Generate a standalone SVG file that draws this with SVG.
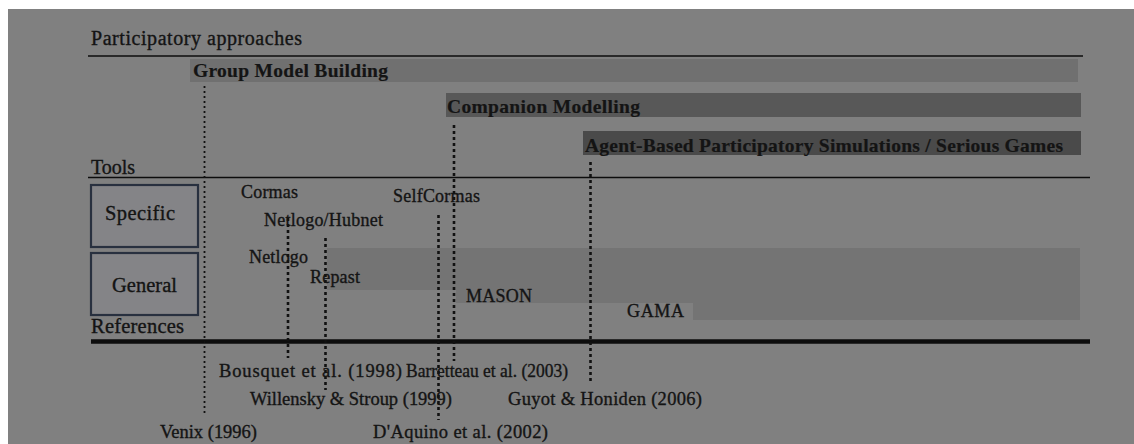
<svg xmlns="http://www.w3.org/2000/svg" width="1134" height="444" viewBox="0 0 1134 444">
  <style>
    text { font-family: "Liberation Serif", "Times New Roman", serif; fill: #141414; stroke: #141414; stroke-width: 0.35; font-size: 18.5px; }
    .tool { font-size: 18px; }
    .hd { font-size: 20px; }
    .band-label { font-size: 19.5px; font-weight: bold; stroke-width: 0.2; }
    .box-label { font-size: 20.5px; }
    .rule { stroke: #0d0d0d; fill: none; }
    .box { fill: #848487; stroke: #28303f; stroke-width: 2.2; }
    .dot { stroke: #111; stroke-width: 2.6; stroke-dasharray: 3 3; fill: none; }
    .dot-thin { stroke: #111; stroke-width: 1.8; stroke-dasharray: 2 3; fill: none; }
  </style>
  <rect x="0" y="0" width="1134" height="444" fill="#ffffff"/>
  <rect x="8" y="9" width="1126" height="435" fill="#808080"/>

  <g id="headers">
    <text class="hd" x="91" y="45" textLength="211" lengthAdjust="spacing">Participatory approaches</text>
    <line class="rule" x1="88" y1="56" x2="1083" y2="56" stroke-width="1.6"/>
    <text class="hd" x="91" y="174" textLength="44" lengthAdjust="spacing">Tools</text>
    <line class="rule" x1="88" y1="177.5" x2="1090" y2="177.5" stroke-width="1.6"/>
    <text class="box-label" x="91" y="333" textLength="93" lengthAdjust="spacing">References</text>
    <line class="rule" x1="91" y1="341.5" x2="1090" y2="341.5" stroke-width="4.5"/>
  </g>

  <g id="group-model-building">
    <rect x="190" y="59" width="888" height="23" fill="#707070"/>
    <text class="band-label" x="193" y="77" textLength="195" lengthAdjust="spacing">Group Model Building</text>
  </g>
  <g id="companion-modelling">
    <rect x="446" y="93" width="635" height="24" fill="#585858"/>
    <text class="band-label" x="447" y="113" textLength="193" lengthAdjust="spacing">Companion Modelling</text>
  </g>
  <g id="abps">
    <rect x="583" y="131" width="498" height="24" fill="#4a4a4a"/>
    <text class="band-label" x="585" y="152" textLength="478" lengthAdjust="spacing">Agent-Based Participatory Simulations / Serious Games</text>
  </g>

  <g id="specific">
    <rect class="box" x="91" y="185" width="107" height="62"/>
    <text class="box-label" x="105" y="220" textLength="70" lengthAdjust="spacing">Specific</text>
  </g>
  <g id="general">
    <rect class="box" x="91" y="253" width="107" height="62"/>
    <text class="box-label" x="112" y="292" textLength="65" lengthAdjust="spacing">General</text>
  </g>

  <g id="general-tools-band">
    <polygon points="327,248 1080,248 1080,320 693,320 693,303 456,303 456,290 327,290" fill="#747474"/>
  </g>

  <g id="connectors">
    <line class="dot-thin" x1="204.5" y1="86" x2="204.5" y2="413"/>
    <line class="dot" x1="288" y1="218" x2="288" y2="358"/>
    <line class="dot" x1="325.5" y1="238" x2="325.5" y2="390"/>
    <line class="dot" x1="438.5" y1="215" x2="438.5" y2="420"/>
    <line class="dot" x1="454" y1="125" x2="454" y2="361"/>
    <line class="dot" x1="590.5" y1="162" x2="590.5" y2="382"/>
  </g>

  <g id="tool-cormas"><text class="tool" x="241" y="198" textLength="57" lengthAdjust="spacing">Cormas</text></g>
  <g id="tool-selfcormas"><text class="tool" x="393" y="202" textLength="87" lengthAdjust="spacing">SelfCormas</text></g>
  <g id="tool-netlogo-hubnet"><text class="tool" x="264" y="226" textLength="119" lengthAdjust="spacing">Netlogo/Hubnet</text></g>
  <g id="tool-netlogo"><text class="tool" x="249" y="263" textLength="59" lengthAdjust="spacing">Netlogo</text></g>
  <g id="tool-repast"><text class="tool" x="310" y="283" textLength="50" lengthAdjust="spacing">Repast</text></g>
  <g id="tool-mason"><text class="tool" x="466" y="302" textLength="66" lengthAdjust="spacing">MASON</text></g>
  <g id="tool-gama"><text class="tool" x="627" y="317" textLength="57" lengthAdjust="spacing">GAMA</text></g>

  <g id="ref-bousquet"><text x="219" y="377" textLength="183" lengthAdjust="spacing">Bousquet et al. (1998)</text></g>
  <g id="ref-barretteau"><text x="406" y="377" textLength="162" lengthAdjust="spacingAndGlyphs" style="font-size:18px">Barretteau et al. (2003)</text></g>
  <g id="ref-willensky"><text x="250" y="405" textLength="202" lengthAdjust="spacing">Willensky &amp; Stroup (1999)</text></g>
  <g id="ref-guyot"><text x="508" y="405" textLength="194" lengthAdjust="spacing">Guyot &amp; Honiden (2006)</text></g>
  <g id="ref-venix"><text x="160" y="438" textLength="97" lengthAdjust="spacing">Venix (1996)</text></g>
  <g id="ref-daquino"><text x="373" y="438" textLength="175" lengthAdjust="spacing">D'Aquino et al. (2002)</text></g>
</svg>
